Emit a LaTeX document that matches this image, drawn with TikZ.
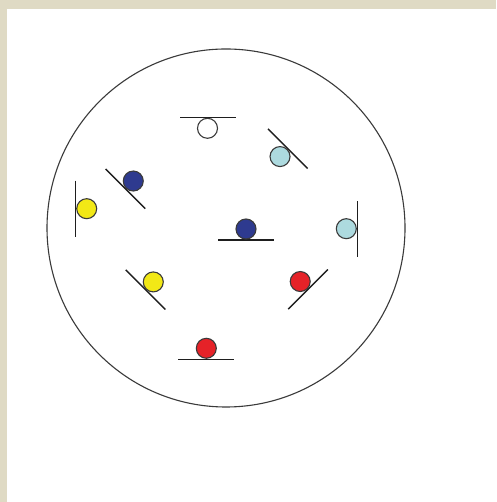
\documentclass[tikz,border=0pt]{standalone}
\usetikzlibrary{calc}
\definecolor{frame}{HTML}{DFDAC4}
\definecolor{ink}{HTML}{1E1E1E}
\definecolor{rim}{HTML}{3A3A3A}
\definecolor{ballblue}{HTML}{2E3A8F}
\definecolor{ballyellow}{HTML}{F2E816}
\definecolor{ballcyan}{HTML}{ADDADF}
\definecolor{ballred}{HTML}{E52228}
\tikzset{
  ball/.style={circle, draw=rim, line width=1.1pt, minimum size=20pt, inner sep=0pt},
  plate/.style={ink, line width=1.4pt}
}
\begin{document}
\begin{tikzpicture}[x=1pt, y=1pt]
  % frame
  \fill[frame] (0,0) rectangle (496,502);
  \fill[white] (7,0) rectangle (496,493);
  \useasboundingbox (0,0) rectangle (496,502);

  % container
  \node[circle, draw=rim, line width=1.1pt, minimum size=358pt, inner sep=0pt]
    (disc) at (226,274) {};

  % plates with a ball resting on each
  \foreach \n/\x/\y/\a/\c in {top/207.5/384.7/-90/white,
      nw/125.5/313.2/45/ballblue, w/75.7/293.3/0/ballyellow,
      ne/287.8/353.2/225/ballcyan, mid/246/262/90/ballblue,
      e/357.3/273.3/180/ballcyan, sw/145.5/212.3/45/ballyellow,
      se/308/212.7/135/ballred, bot/206.3/142.7/90/ballred}
    { \coordinate (t\n) at (\x,\y);
      \coordinate (p\n) at ($(t\n)+(\a+90:28)$);
      \coordinate (q\n) at ($(t\n)+(\a-90:28)$);
      \draw[plate] (p\n) -- (q\n);
      \node[ball, fill=\c] (b\n) at ($(t\n)+(\a:11)$) {}; }
\end{tikzpicture}
\end{document}
